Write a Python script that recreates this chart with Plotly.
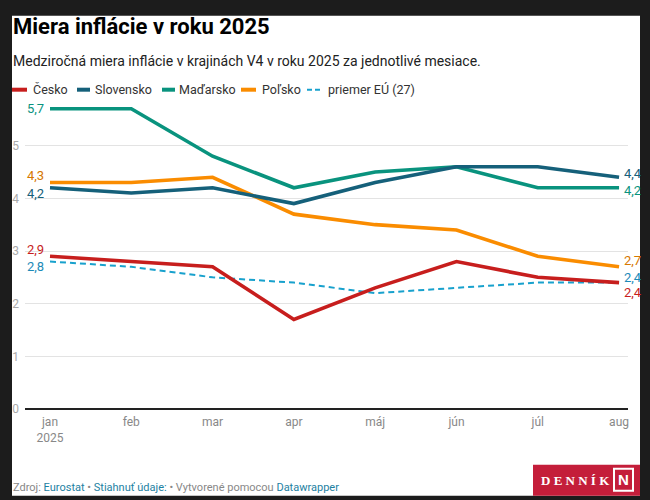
import plotly.graph_objects as go

# ---- data ----
months = ["jan", "feb", "mar", "apr", "máj", "jún", "júl", "aug"]
tick_labels = ["jan<br>2025", "feb", "mar", "apr", "máj", "jún", "júl", "aug"]
cesko = [2.9, 2.8, 2.7, 1.7, 2.3, 2.8, 2.5, 2.4]
slovensko = [4.2, 4.1, 4.2, 3.9, 4.3, 4.6, 4.6, 4.4]
madarsko = [5.7, 5.7, 4.8, 4.2, 4.5, 4.6, 4.2, 4.2]
polsko = [4.3, 4.3, 4.4, 3.7, 3.5, 3.4, 2.9, 2.7]
eu = [2.8, 2.7, 2.5, 2.4, 2.2, 2.3, 2.4, 2.4]
y_ticks = [0, 1, 2, 3, 4, 5]

# ---- styles ----
C_CZ = "#c71e1d"
C_SK = "#15607a"
C_HU = "#09937e"
C_PL = "#fa8c00"
C_EU = "#18a1cd"
FONT = "Roboto"

W, H = 650, 500
L, R, T, B = 25, 22, 93.3, 90.7
PW, PH = W - L - R, H - T - B


def px(x):
    return (x - L) / PW


def py(y):
    return (H - B - y) / PH


x = list(range(len(months)))
fig = go.Figure()

series = [
    ("priemer EÚ (27)", eu, C_EU, 2, "6px,4px"),
    ("Maďarsko", madarsko, C_HU, 3.6, "solid"),
    ("Poľsko", polsko, C_PL, 3.6, "solid"),
    ("Slovensko", slovensko, C_SK, 3.6, "solid"),
    ("Česko", cesko, C_CZ, 3.6, "solid"),
]
for name, vals, col, w, dash in series:
    fig.add_trace(go.Scatter(x=x, y=vals, mode="lines", name=name,
                             line=dict(color=col, width=w, dash=dash),
                             hoverinfo="skip"))

fig.update_layout(
    width=W, height=H,
    margin=dict(l=L, r=R, t=T, b=B),
    paper_bgcolor="#1c1c1c",
    plot_bgcolor="white",
    showlegend=False,
    font=dict(family=FONT),
    xaxis=dict(range=[-0.3075, 7.110], tickvals=x, ticktext=tick_labels,
               showgrid=False, zeroline=False, showline=False, ticks="",
               tickfont=dict(size=12, color="#888888"), ticklabelstandoff=4,
               fixedrange=True),
    yaxis=dict(range=[0, 6], tickvals=y_ticks, ticktext=[str(v) for v in y_ticks],
               showgrid=True, gridcolor="#e3e3e3", gridwidth=1,
               zeroline=True, zerolinecolor="#222222", zerolinewidth=1.5,
               showline=False, ticks="", ticklabelstandoff=5,
               tickfont=dict(size=12, color="#aaaaaa"), fixedrange=True),
)

shapes = []
# white card
shapes.append(dict(type="rect", xref="paper", yref="paper", layer="below",
                   x0=px(12), x1=px(640), y0=py(496), y1=py(16),
                   fillcolor="white", line=dict(width=0)))

annots = []
# title & subtitle
annots.append(dict(text="<b>Miera inflácie v roku 2025</b>", x=px(11), y=py(27),
                   xref="paper", yref="paper", xanchor="left", yanchor="middle",
                   showarrow=False, font=dict(size=22, color="#000000", family=FONT)))
annots.append(dict(text="Medziročná miera inflácie v krajinách V4 v roku 2025 za jednotlivé mesiace.",
                   x=px(11), y=py(61), xref="paper", yref="paper", xanchor="left",
                   yanchor="middle", showarrow=False,
                   font=dict(size=14, color="#222222", family=FONT)))

# manual legend
legend_items = [
    ("Česko", C_CZ, 12, 27, 31, "solid"),
    ("Slovensko", C_SK, 77, 90, 93, "solid"),
    ("Maďarsko", C_HU, 162, 175, 177, "solid"),
    ("Poľsko", C_PL, 241, 256, 260, "solid"),
    ("priemer EÚ (27)", C_EU, 307, 322, 326, "dash"),
]
LY = 90
for name, col, sx0, sx1, tx, dash in legend_items:
    if dash == "solid":
        shapes.append(dict(type="line", xref="paper", yref="paper",
                           x0=px(sx0), x1=px(sx1), y0=py(LY), y1=py(LY),
                           line=dict(color=col, width=4)))
    else:
        shapes.append(dict(type="line", xref="paper", yref="paper",
                           x0=px(sx0), x1=px(sx1), y0=py(LY), y1=py(LY),
                           line=dict(color=col, width=2, dash="5px,3px")))
    annots.append(dict(text=name, x=px(tx), y=py(LY), xref="paper", yref="paper",
                       xanchor="left", yanchor="middle", showarrow=False,
                       font=dict(size=12.5, color="#333333", family=FONT)))

# value labels
def fmt(v):
    return f"{v:.1f}".replace(".", ",")

left_labels = [
    (madarsko, C_HU, 0),
    (polsko, "#d67800", -7),
    (slovensko, C_SK, 6),
    (cesko, C_CZ, -6.5),
    (eu, "#1d8ab8", 5),
]
for vals, col, dy in left_labels:
    annots.append(dict(text=fmt(vals[0]), x=0, y=vals[0], xref="x", yref="y",
                       xanchor="right", yanchor="middle", xshift=-4, yshift=-dy,
                       showarrow=False, font=dict(size=13, color=col, family=FONT)))

right_labels = [
    (slovensko, C_SK, -4),
    (madarsko, C_HU, 3),
    (polsko, "#d67800", -6),
    (eu, "#1d8ab8", -5),
    (cesko, C_CZ, 10),
]
for vals, col, dy in right_labels:
    annots.append(dict(text=fmt(vals[-1]), x=7, y=vals[-1], xref="x", yref="y",
                       xanchor="left", yanchor="middle", xshift=3, yshift=-dy,
                       showarrow=False, font=dict(size=13, color=col, family=FONT)))

# footer
link = "#1d81a2"
footer = ("Zdroj: <span style='color:%s'>Eurostat</span> • "
          "<span style='color:%s'>Stiahnuť údaje:</span> • Vytvorené pomocou "
          "<span style='color:%s'>Datawrapper</span>") % (link, link, link)
annots.append(dict(text=footer, x=px(11), y=py(488), xref="paper", yref="paper",
                   xanchor="left", yanchor="middle", showarrow=False,
                   font=dict(size=11, color="#888888", family=FONT)))

# logo
shapes.append(dict(type="rect", xref="paper", yref="paper",
                   x0=px(533), x1=px(640), y0=py(496), y1=py(465),
                   fillcolor="#c41e3a", line=dict(width=0)))
shapes.append(dict(type="rect", xref="paper", yref="paper",
                   x0=px(614), x1=px(633), y0=py(491), y1=py(469),
                   fillcolor="rgba(0,0,0,0)", line=dict(color="white", width=2)))
annots.append(dict(text="<b>D E N N Í K</b>", x=px(575), y=py(480.5), xref="paper", yref="paper",
                   xanchor="center", yanchor="middle", showarrow=False,
                   font=dict(size=13, color="white", family="Liberation Serif")))
annots.append(dict(text="<b>N</b>", x=px(623.5), y=py(480), xref="paper", yref="paper",
                   xanchor="center", yanchor="middle", showarrow=False,
                   font=dict(size=15, color="white", family="Liberation Sans")))

fig.update_layout(shapes=shapes, annotations=annots)
fig.write_html("out.html")
